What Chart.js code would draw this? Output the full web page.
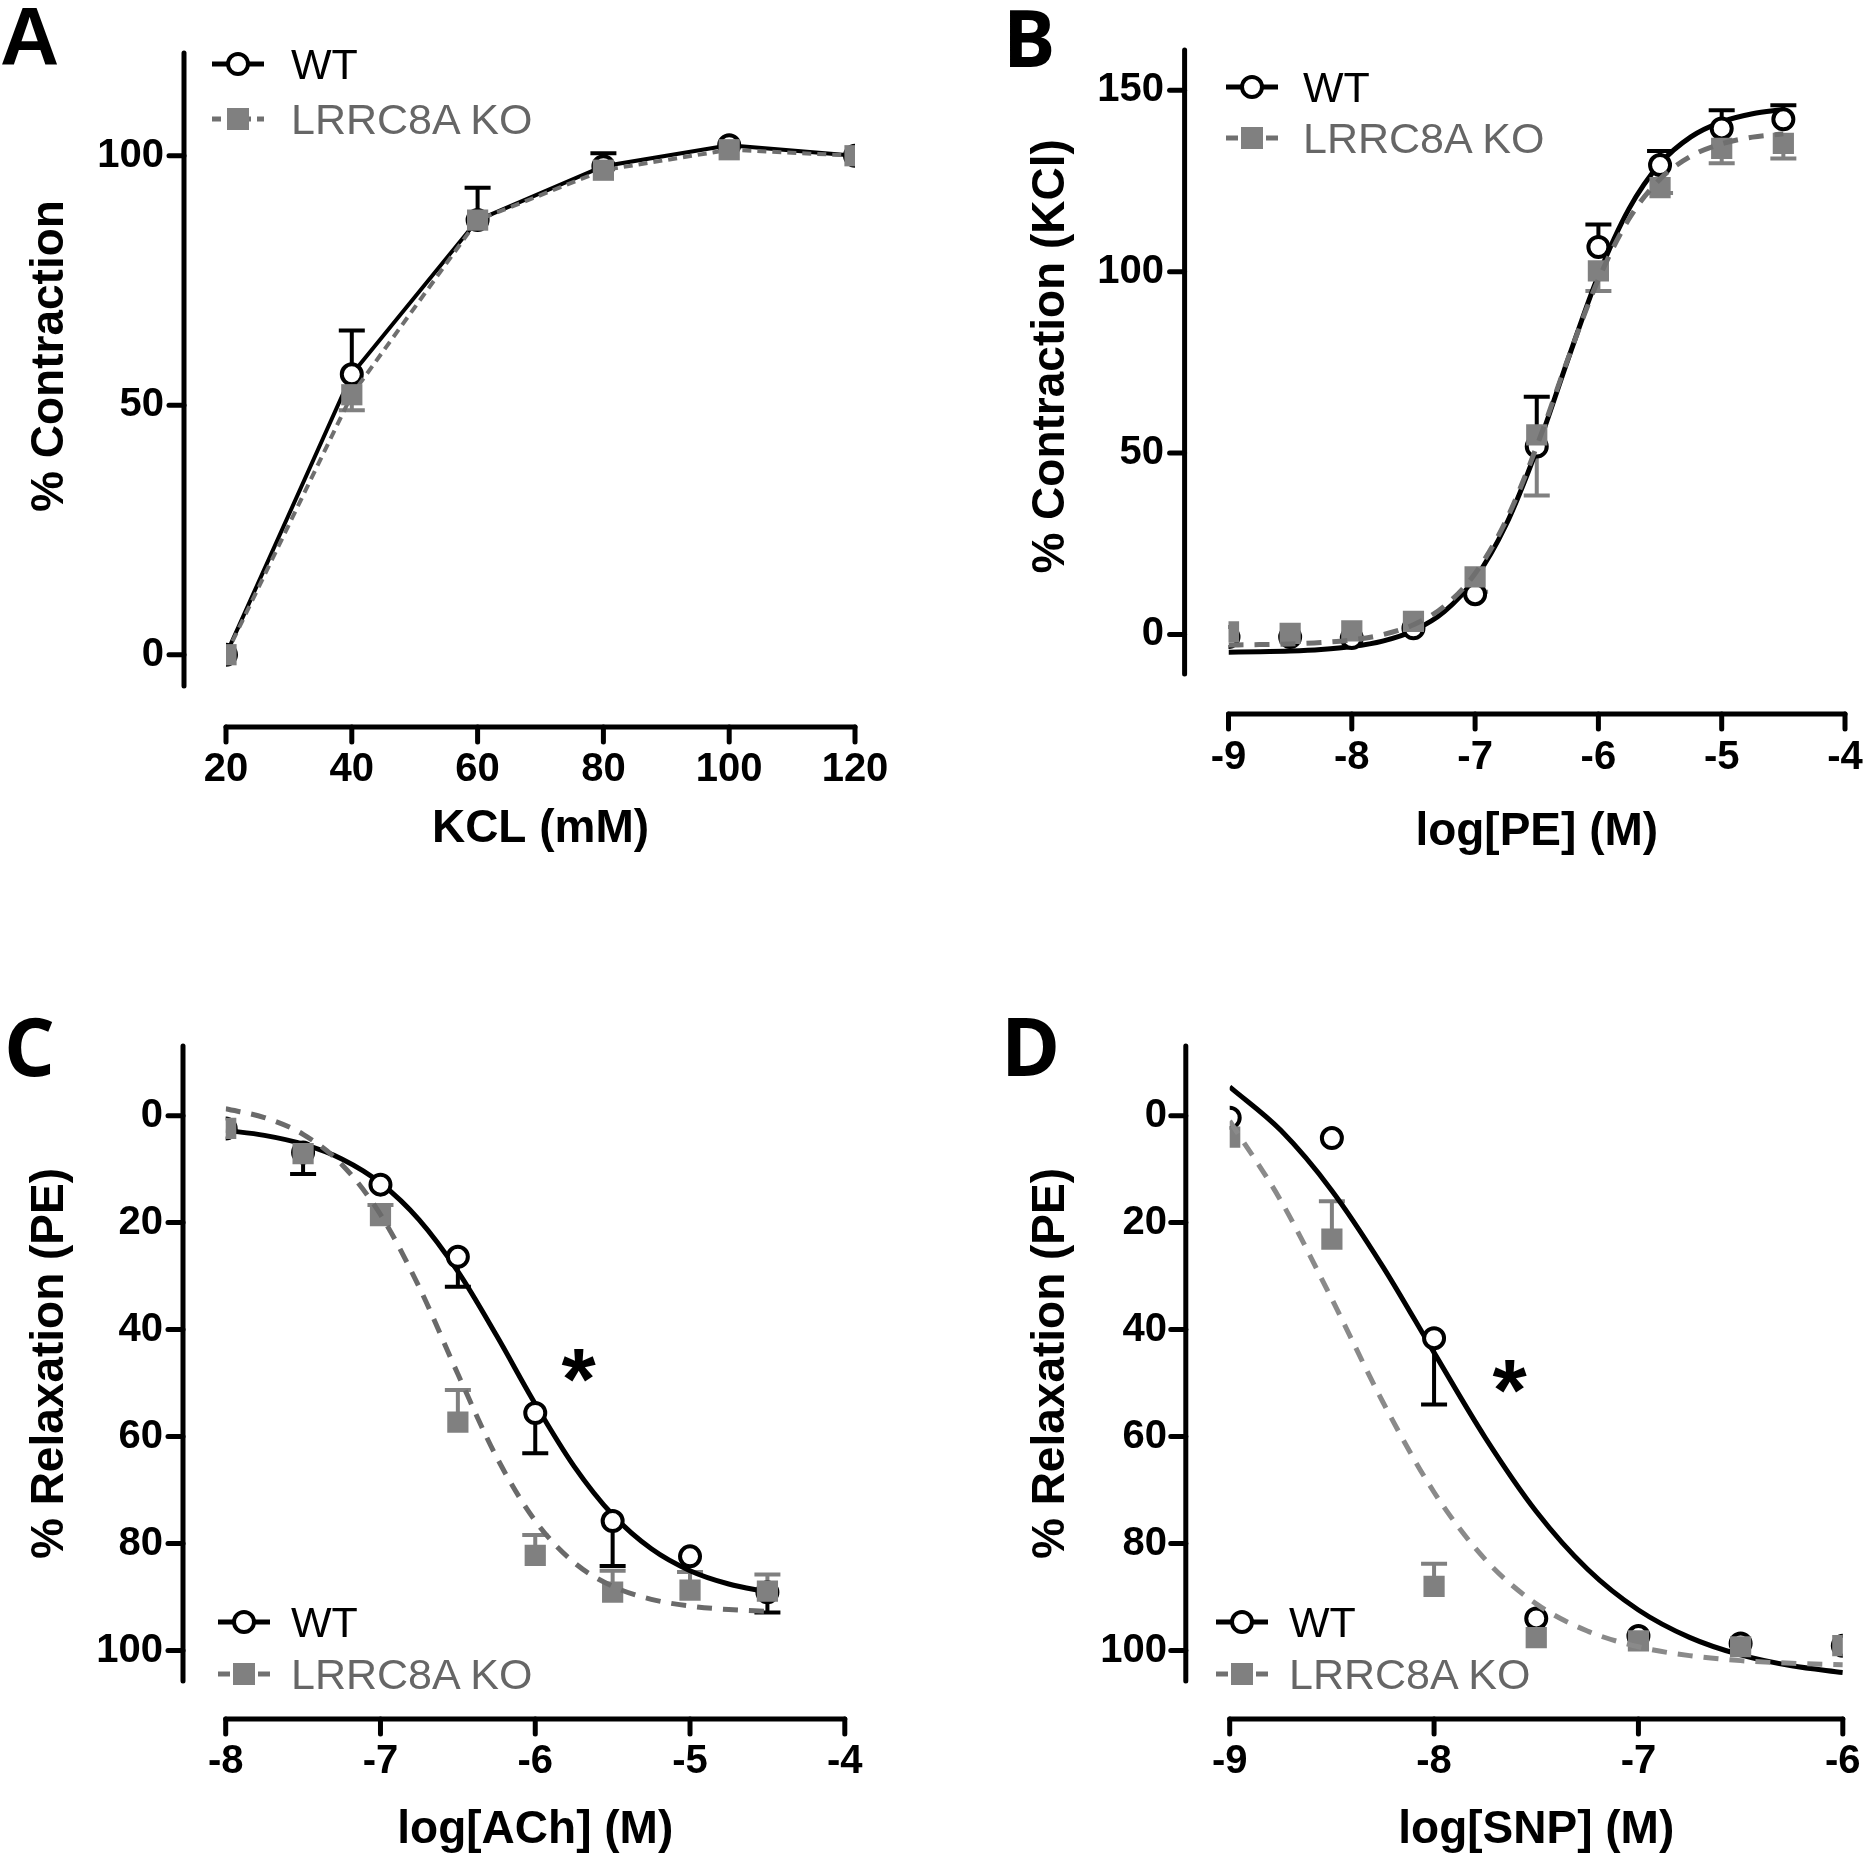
<!DOCTYPE html>
<html><head><meta charset="utf-8">
<script src="https://cdn.jsdelivr.net/npm/chart.js@4.4.1/dist/chart.umd.min.js"></script>
<style>
html,body{margin:0;padding:0;background:#fff;overflow:hidden;width:1863px;height:1857px;position:relative;}
canvas{position:absolute;}
.t{position:absolute;white-space:nowrap;line-height:1;}
</style></head><body>
<script>
// ---------------- DATA ----------------
// Panel A: KCl concentration-response
const kclX   = [20, 40, 60, 80, 100, 120];
const kclWT  = [0, 56.2, 87.1, 97.9, 102.1, 100];
const kclKO  = [0, 52.1, 87.1, 97.1, 101.2, 100];
const kclWTerr = [0, 8.8, 6.5, 2.6, 0, 0];
const kclKOerr = [0, 3.1, 0, 0, 0, 0];
const kclXTicks = [20, 40, 60, 80, 100, 120];
const kclYTicks = [0, 50, 100];

// Panel B: PE
const peX   = [-9, -8.5, -8, -7.5, -7, -6.5, -6, -5.5, -5, -4.5];
const peWT  = [-0.7, -0.7, -1, 1.7, 11.1, 51.8, 106.8, 129.4, 139.5, 142];
const peKO  = [0.7, 0.3, 1, 3.6, 15.9, 55, 100.2, 123.2, 134, 135.4];
const peWTerr = [0, 0, 0, 0, 0, 13.7, 6.2, 3.9, 5, 3.9];
const peKOerr = [0, 0, 0, 0, 4.1, 16.7, 5.5, 1.5, 4.1, 4.2];
const peFitX  = [-9, -8.75, -8.5, -8.25, -8, -7.75, -7.5, -7.25, -7, -6.75, -6.5, -6.25, -6, -5.75, -5.5, -5.25, -5, -4.75, -4.5];
const peFitWT = [-4.88, -4.77, -4.56, -4.14, -3.34, -1.82, 1.04, 6.29, 15.46, 30.17, 50.97, 75.49, 99.0, 117.46, 129.8, 137.18, 141.32, 143.55, 144.73];
const peFitKO = [-2.90, -2.80, -2.61, -2.23, -1.50, -0.07, 2.67, 7.77, 16.79, 31.37, 51.89, 75.69, 97.86, 114.67, 125.52, 131.84, 135.27, 137.09, 138.02];
const peXTicks = [-9, -8, -7, -6, -5, -4];
const peYTicks = [0, 50, 100, 150];

// Panel C: ACh
const achX   = [-8, -7.5, -7, -6.5, -6, -5.5, -5, -4.5];
const achWT  = [2.4, 6.9, 12.9, 26.4, 55.6, 75.8, 82.4, 89.1];
const achKO  = [2.4, 7.1, 18.7, 57.3, 82.2, 89.1, 88.7, 88.9];
const achWTerr = [0, 4, 0, 5.6, 7.5, 8.4, 0, 3.8];
const achKOerr = [0, 0, 2, 6, 3.8, 4, 3.4, 3.1];
const achFitX  = [-8, -7.75, -7.5, -7.25, -7, -6.75, -6.5, -6.25, -6, -5.75, -5.5, -5.25, -5, -4.75, -4.5];
const achFitWT = [2.75, 3.69, 5.33, 8.09, 12.58, 19.47, 29.13, 41.12, 53.90, 65.52, 74.63, 80.99, 85.08, 87.57, 89.04];
const achFitKO = [-1.28, 0.36, 3.49, 9.12, 18.49, 32.06, 48.31, 63.83, 75.77, 83.52, 88.00, 90.43, 91.69, 92.34, 92.67];
const achXTicks = [-8, -7, -6, -5, -4];
const relaxYTicks = [0, 20, 40, 60, 80, 100];

// Panel D: SNP
const snpX   = [-9, -8.5, -8, -7.5, -7, -6.5, -6];
const snpWT  = [0.4, 4.2, 41.6, 94, 97.3, 98.7, 99.1];
const snpKO  = [4, 23.1, 88, 97.6, 98.2, 99.3, 99.1];
const snpWTerr = [0, 0, 12.4, 0, 0, 0, 0];
const snpKOerr = [0, 7.1, 4.2, 0, 0, 0, 0];
const snpFitX  = [-9, -8.75, -8.5, -8.25, -8, -7.75, -7.5, -7.25, -7, -6.75, -6.5, -6.25, -6];
const snpFitWT = [-5.38, 2.75, 14.02, 28.26, 44.31, 60.18, 74.00, 84.75, 92.42, 97.54, 100.82, 102.86, 104.11];
const snpFitKO = [1.0, 15.88, 34.31, 53.58, 70.41, 82.96, 91.28, 96.35, 99.30, 100.96, 101.89, 102.39, 102.67];
const snpXTicks = [-9, -8, -7, -6];

const seriesNames = ['WT', 'LRRC8A KO'];

// ---------------- STYLE / LAYOUT ----------------
const FONT = "'Liberation Sans', Arial, Helvetica, sans-serif";
const TICK = 40, TITLE = 46;
const KO_FILL = '#808080';

function pts(xs, ys) { return xs.map((x, i) => ({x: x, y: ys[i]})); }

function wtPoints(xs, ys, line) {
  return {label: seriesNames[0], data: pts(xs, ys), showLine: !!line, borderColor: '#000', borderWidth: 4,
    pointStyle: 'circle', pointRadius: 10, pointBorderWidth: 4, pointBackgroundColor: '#fff',
    pointBorderColor: '#000', pointHoverRadius: 10, clip: 0, order: 3, tension: 0};
}
function koPoints(xs, ys, line, lineColor, dash) {
  return {label: seriesNames[1], data: pts(xs, ys), showLine: !!line, borderColor: lineColor || '#707070',
    borderWidth: 4, borderDash: dash || [], pointStyle: 'rect', pointRadius: 15, pointBorderWidth: 0,
    pointBackgroundColor: KO_FILL, pointBorderColor: KO_FILL, pointHoverRadius: 15, clip: 0, order: 2, tension: 0};
}
function curve(xs, ys, color, dash, order) {
  return {data: pts(xs, ys), showLine: true, borderColor: color, borderWidth: 5, borderDash: dash || [],
    pointRadius: 0, pointHoverRadius: 0, cubicInterpolationMode: 'monotone', clip: 0, order: order};
}

function buildPanel(p) {
  const cv = document.createElement('canvas');
  cv.width = p.box.w; cv.height = p.box.h;
  cv.style.left = p.box.x + 'px'; cv.style.top = p.box.y + 'px';
  document.body.appendChild(cv);
  const B = p.box, A = p.area;
  const lhT = TITLE * 1.2;

  const axesPlugin = {
    id: 'offsetAxes',
    afterDraw(chart) {
      const ctx = chart.ctx, xs = chart.scales.x, ys = chart.scales.y, ca = chart.chartArea;
      const ax = p.yAxisX - B.x, ay = p.xAxisY - B.y, tl = 15;
      const top = (p.yLineTop !== undefined ? p.yLineTop : A.top) - B.y;
      ctx.save();
      ctx.strokeStyle = '#000'; ctx.lineWidth = 5; ctx.lineCap = 'round';
      ctx.beginPath(); ctx.moveTo(ax, top); ctx.lineTo(ax, ca.bottom); ctx.stroke();
      ys.ticks.forEach(t => {
        const py = ys.getPixelForValue(t.value);
        ctx.beginPath(); ctx.moveTo(ax - tl, py); ctx.lineTo(ax, py); ctx.stroke();
      });
      ctx.beginPath(); ctx.moveTo(ca.left, ay); ctx.lineTo(ca.right, ay); ctx.stroke();
      xs.ticks.forEach(t => {
        const px = xs.getPixelForValue(t.value);
        ctx.beginPath(); ctx.moveTo(px, ay); ctx.lineTo(px, ay + tl); ctx.stroke();
      });
      ctx.restore();
    }
  };
  const errPlugin = {
    id: 'errorBars',
    beforeDatasetsDraw(chart) {
      const ctx = chart.ctx, xs = chart.scales.x, ys = chart.scales.y;
      ctx.save();
      ctx.lineWidth = 4; ctx.lineCap = 'butt';
      p.errors.forEach(s => {
        ctx.strokeStyle = s.color;
        s.x.forEach((xv, i) => {
          const e = s.err[i];
          if (!e) return;
          const px = xs.getPixelForValue(xv);
          const p0 = ys.getPixelForValue(s.y[i]);
          const p1 = ys.getPixelForValue(s.y[i] + s.sign * e);
          ctx.beginPath();
          ctx.moveTo(px, p0); ctx.lineTo(px, p1);
          ctx.moveTo(px - 13, p1); ctx.lineTo(px + 13, p1);
          ctx.stroke();
        });
      });
      ctx.restore();
    }
  };

  new Chart(cv, {
    type: 'line',
    data: {datasets: p.datasets},
    options: {
      responsive: false, animation: false, devicePixelRatio: 1, events: [],
      layout: {padding: {left: 0, top: A.top - B.y, right: B.x + B.w - A.right, bottom: 0}},
      plugins: {legend: {display: false}, tooltip: {enabled: false}},
      scales: {
        x: {
          type: 'linear', position: 'bottom', min: p.xMin, max: p.xMax,
          grid: {display: false, drawTicks: false}, border: {display: false},
          afterBuildTicks: s => { s.ticks = p.xTicks.map(v => ({value: v})); },
          afterFit: s => { s.height = B.y + B.h - A.bottom; },
          ticks: {autoSkip: false, maxRotation: 0, color: '#000',
            font: {family: FONT, size: TICK, weight: 'bold'},
            padding: p.xTickY - A.bottom - 0.6 * TICK, callback: v => String(v)},
          title: {display: true, text: p.xTitle, color: '#000',
            font: {family: FONT, size: TITLE, weight: 'bold'},
            padding: {top: 0, bottom: B.y + B.h - p.xTitleY - lhT / 2}}
        },
        y: {
          type: 'linear', position: 'left', min: p.yMin, max: p.yMax, reverse: !!p.reverse,
          grid: {display: false, drawTicks: false}, border: {display: false},
          afterBuildTicks: s => { s.ticks = p.yTicks.map(v => ({value: v})); },
          afterFit: s => { s.width = A.left - B.x; },
          ticks: {autoSkip: false, color: '#000',
            font: {family: FONT, size: TICK, weight: 'bold'},
            padding: A.left - p.yTickRight, callback: v => String(v)},
          title: {display: true, text: p.yTitle, color: '#000',
            font: {family: FONT, size: TITLE, weight: 'bold'},
            padding: {top: p.yTitleX - B.x - lhT / 2, bottom: 0}}
        }
      }
    },
    plugins: [errPlugin, axesPlugin]
  });
}

// Panel A
buildPanel({
  box: {x: 0, y: -150, w: 1000, h: 1050}, area: {left: 226, right: 855, top: 26, bottom: 686},
  xMin: 20, xMax: 120, yMin: -6.27, yMax: 126.0, yLineTop: 53, xTicks: kclXTicks, yTicks: kclYTicks,
  yAxisX: 184, xAxisY: 727, yTickRight: 164, xTickY: 770, xTitleY: 829, yTitleX: 50,
  xTitle: 'KCL (mM)', yTitle: '% Contraction',
  datasets: [wtPoints(kclX, kclWT, true), koPoints(kclX, kclKO, true, '#6f6f6f', [9, 6])],
  errors: [{x: kclX, y: kclWT, err: kclWTerr, sign: 1, color: '#000'},
           {x: kclX, y: kclKO, err: kclKOerr, sign: -1, color: KO_FILL}]
});
// Panel B
buildPanel({
  box: {x: 931, y: -150, w: 1000, h: 1050}, area: {left: 1228.5, right: 1845, top: 38.8, bottom: 674},
  xMin: -9, xMax: -4, yMin: -10.9, yMax: 164.2, yLineTop: 50, xTicks: peXTicks, yTicks: peYTicks,
  yAxisX: 1184.6, xAxisY: 714, yTickRight: 1164, xTickY: 758, xTitleY: 832, yTitleX: 1051.5,
  xTitle: 'log[PE] (M)', yTitle: '% Contraction (KCl)',
  datasets: [curve(peFitX, peFitWT, '#000', [], 4), wtPoints(peX, peWT), koPoints(peX, peKO),
             curve(peFitX, peFitKO, '#6f6f6f', [15, 11], 1)],
  errors: [{x: peX, y: peWT, err: peWTerr, sign: 1, color: '#000'},
           {x: peX, y: peKO, err: peKOerr, sign: -1, color: KO_FILL}]
});
// Panel C
buildPanel({
  box: {x: 0, y: 900, w: 931, h: 1000}, area: {left: 225.7, right: 844.8, top: 1046, bottom: 1681},
  xMin: -8, xMax: -4, yMin: -13.02, yMax: 105.7, reverse: true, xTicks: achXTicks, yTicks: relaxYTicks,
  yAxisX: 183, xAxisY: 1719, yTickRight: 163, xTickY: 1762, xTitleY: 1830, yTitleX: 50,
  xTitle: 'log[ACh] (M)', yTitle: '% Relaxation (PE)',
  datasets: [curve(achFitX, achFitWT, '#000', [], 4), wtPoints(achX, achWT), koPoints(achX, achKO),
             curve(achFitX, achFitKO, '#6a6a6a', [15, 11], 1)],
  errors: [{x: achX, y: achWT, err: achWTerr, sign: 1, color: '#000'},
           {x: achX, y: achKO, err: achKOerr, sign: -1, color: KO_FILL}]
});
// Panel D
buildPanel({
  box: {x: 931, y: 900, w: 1000, h: 1000}, area: {left: 1229.7, right: 1842.8, top: 1046, bottom: 1681},
  xMin: -9, xMax: -6, yMin: -13.02, yMax: 105.7, reverse: true, xTicks: snpXTicks, yTicks: relaxYTicks,
  yAxisX: 1185.8, xAxisY: 1719, yTickRight: 1167, xTickY: 1762, xTitleY: 1830, yTitleX: 1051.5,
  xTitle: 'log[SNP] (M)', yTitle: '% Relaxation (PE)',
  datasets: [curve(snpFitX, snpFitWT, '#000', [], 4), wtPoints(snpX, snpWT), koPoints(snpX, snpKO),
             curve(snpFitX, snpFitKO, '#8a8a8a', [15, 11], 1)],
  errors: [{x: snpX, y: snpWT, err: snpWTerr, sign: 1, color: '#000'},
           {x: snpX, y: snpKO, err: snpKOerr, sign: -1, color: KO_FILL}]
});

// ---------------- TEXT OVERLAYS (legends, panel letters, asterisks) ----------------
function addText(txt, x, y, css, center) {
  const d = document.createElement('div');
  d.className = 't'; d.textContent = txt;
  d.style.left = x + 'px'; d.style.top = y + 'px';
  d.style.transform = center ? 'translate(-50%,-50%)' : 'translateY(-50%)';
  Object.assign(d.style, css);
  document.body.appendChild(d);
}
function addLegendMarker(cx, cy, type, dash) {
  const ns = 'http://www.w3.org/2000/svg';
  const s = document.createElementNS(ns, 'svg');
  s.setAttribute('width', 64); s.setAttribute('height', 32);
  s.style.position = 'absolute'; s.style.left = (cx - 32) + 'px'; s.style.top = (cy - 16) + 'px';
  const l = document.createElementNS(ns, 'line');
  l.setAttribute('x1', 6); l.setAttribute('x2', 58); l.setAttribute('y1', 16); l.setAttribute('y2', 16);
  l.setAttribute('stroke-width', 5);
  if (type === 'wt') {
    l.setAttribute('stroke', '#000'); s.appendChild(l);
    const c = document.createElementNS(ns, 'circle');
    c.setAttribute('cx', 32); c.setAttribute('cy', 16); c.setAttribute('r', 10);
    c.setAttribute('fill', '#fff'); c.setAttribute('stroke', '#000'); c.setAttribute('stroke-width', 4);
    s.appendChild(c);
  } else {
    l.setAttribute('stroke', '#707070'); l.setAttribute('stroke-dasharray', dash); s.appendChild(l);
    const r = document.createElementNS(ns, 'rect');
    r.setAttribute('x', 21); r.setAttribute('y', 5); r.setAttribute('width', 22); r.setAttribute('height', 22);
    r.setAttribute('fill', KO_FILL); s.appendChild(r);
  }
  document.body.appendChild(s);
}
const legendCss = {fontFamily: FONT, fontSize: '43px'};
const legends = [
  {mx: 238, wy: 64, ky: 119, tx: 291, dash: '9 6'},
  {mx: 1251.5, wy: 87, ky: 138, tx: 1303, dash: '12 8'},
  {mx: 244, wy: 1622, ky: 1674, tx: 291, dash: '12 8'},
  {mx: 1242, wy: 1622, ky: 1674, tx: 1289, dash: '12 8'}
];
legends.forEach(L => {
  addLegendMarker(L.mx, L.wy, 'wt');
  addLegendMarker(L.mx, L.ky, 'ko', L.dash);
  addText(seriesNames[0], L.tx, L.wy, Object.assign({color: '#000'}, legendCss));
  addText(seriesNames[1], L.tx, L.ky, Object.assign({color: '#666'}, legendCss));
});

// Panel letters
addText('A', 0, 36, {fontFamily: FONT, fontWeight: 'bold', fontSize: '82px'});
addText('B', 1003, 37, {fontFamily: "'Open Sans', " + FONT, fontWeight: '700', fontSize: '78px'});
addText('C', 4, 1045, {fontFamily: "'Open Sans', " + FONT, fontWeight: '700', fontSize: '80px'});
addText('D', 1001, 1045, {fontFamily: "'Open Sans', " + FONT, fontWeight: '700', fontSize: '80px'});

// Significance asterisks
addText('*', 578.6, 1359 + 20, {fontFamily: FONT, fontWeight: 'bold', fontSize: '88px'}, true);
addText('*', 1509.5, 1369.6 + 20, {fontFamily: FONT, fontWeight: 'bold', fontSize: '88px'}, true);
</script>
</body></html>
